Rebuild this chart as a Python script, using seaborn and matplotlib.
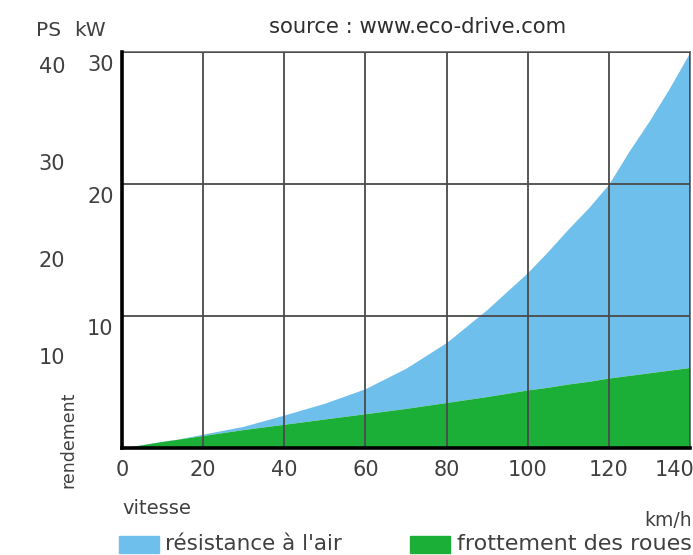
import matplotlib
matplotlib.use("Agg")
import matplotlib.pyplot as plt
import matplotlib.transforms as mtransforms
import seaborn as sns
import pandas as pd
from matplotlib.patches import Rectangle

# ---- data ----
speed_kmh = [0, 10, 20, 30, 40, 50, 60, 70, 80, 90, 95, 100, 105, 110, 115, 120, 125, 130, 135, 140]
total_kw = [0, 0.45, 1.05, 1.65, 2.5, 3.4, 4.5, 6.05, 8.0, 10.5, 11.9, 13.3, 14.9, 16.6, 18.2, 20.0, 22.5, 24.8, 27.3, 30.0]
rolling_kw = [0, 0.5, 0.95, 1.4, 1.8, 2.2, 2.6, 3.0, 3.45, 3.9, 4.15, 4.4, 4.6, 4.85, 5.05, 5.3, 5.5, 5.7, 5.9, 6.1]
x_ticks = [0, 20, 40, 60, 80, 100, 120, 140]
kw_ticks = [10, 20, 30]
ps_ticks = [10, 20, 30, 40]
PS_PER_KW = 1.36

series_labels = ["résistance à l'air", "frottement des roues"]
source_text = "source : www.eco-drive.com"

BLUE = "#6EBFEC"
GREEN = "#1BAF38"
GRID = "#4a4a4a"
TXT = "#404040"

df = pd.DataFrame({"speed": speed_kmh, "total": total_kw, "rolling": rolling_kw})

sns.set_theme(style="white")
plt.rcParams["font.family"] = ["DejaVu Sans"]

fig = plt.figure(figsize=(6.93, 5.55), dpi=100)
ax = fig.add_axes([122 / 693, 1 - 448 / 555, 568 / 693, 396 / 555])

sns.lineplot(data=df, x="speed", y="total", ax=ax, color=BLUE, linewidth=0)
sns.lineplot(data=df, x="speed", y="rolling", ax=ax, color=GREEN, linewidth=0)
ax.fill_between(df["speed"], df["rolling"], df["total"], color=BLUE, linewidth=0, zorder=1)
ax.fill_between(df["speed"], 0, df["rolling"], color=GREEN, linewidth=0, zorder=1)

ax.set_xlim(0, 140)
ax.set_ylim(0, 30)
ax.set_xticks(x_ticks)
ax.set_yticks(kw_ticks)
ax.set_xlabel("")
ax.set_ylabel("")
ax.grid(True, color=GRID, linewidth=1.3, zorder=2)
ax.set_axisbelow(False)

for s in ["top", "right"]:
    ax.spines[s].set_color("#6a6a6a")
    ax.spines[s].set_linewidth(1.2)
for s in ["left", "bottom"]:
    ax.spines[s].set_color("black")
    ax.spines[s].set_linewidth(2.6)
    ax.spines[s].set_zorder(5)

ax.tick_params(axis="both", length=0, labelsize=15, labelcolor=TXT)
ax.tick_params(axis="x", pad=9)
ax.tick_params(axis="y", pad=6)
xl = ax.get_xticklabels()
xl[-1].set_horizontalalignment("right")
xl[-1].set_transform(xl[-1].get_transform() + mtransforms.ScaledTranslation(3 / 72, 0, fig.dpi_scale_trans))

kw_shift = mtransforms.ScaledTranslation(0, -8 / 72, fig.dpi_scale_trans)
for lab in ax.get_yticklabels():
    lab.set_transform(lab.get_transform() + kw_shift)

sec = ax.secondary_yaxis(-0.095, functions=(lambda k: k * PS_PER_KW, lambda p: p / PS_PER_KW))
sec.set_yticks(ps_ticks)
sec.tick_params(length=0, labelsize=15, labelcolor=TXT, pad=2)
sec.spines["left"].set_visible(False)
ps_shift = mtransforms.ScaledTranslation(0, -4 / 72, fig.dpi_scale_trans)
for lab in sec.get_yticklabels():
    lab.set_transform(lab.get_transform() + ps_shift)

fig.text(36 / 693, 1 - 31 / 555, "PS", fontsize=14.5, color=TXT, va="center", ha="left")
fig.text(74 / 693, 1 - 31 / 555, "kW", fontsize=14.5, color=TXT, va="center", ha="left")
fig.text(418 / 693, 1 - 27 / 555, source_text, fontsize=15.2, color="#2e2e2e", va="center", ha="center")
fig.text(68 / 693, 1 - 440 / 555, "rendement", fontsize=12.5, color=TXT, rotation=90, va="center", ha="center")
fig.text(122 / 693, 1 - 508 / 555, "vitesse", fontsize=14, color=TXT, va="center", ha="left")
fig.text(692 / 693, 1 - 520 / 555, "km/h", fontsize=13.5, color=TXT, va="center", ha="right")

# legend
fig.patches.append(Rectangle((119 / 693, 1 - 553 / 555), 40 / 693, 17 / 555,
                             transform=fig.transFigure, color=BLUE, figure=fig))
fig.text(165 / 693, 1 - 544 / 555, series_labels[0], fontsize=15.5, color=TXT, va="center", ha="left")
fig.patches.append(Rectangle((410 / 693, 1 - 553 / 555), 40 / 693, 17 / 555,
                             transform=fig.transFigure, color=GREEN, figure=fig))
fig.text(457 / 693, 1 - 544 / 555, series_labels[1], fontsize=16, color=TXT, va="center", ha="left")

fig.savefig("out.png", dpi=100, facecolor="white")
